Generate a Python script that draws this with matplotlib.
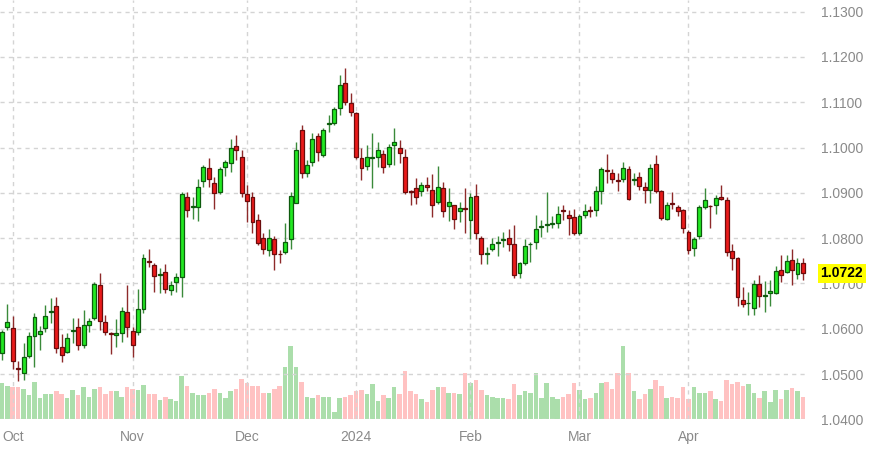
import matplotlib
matplotlib.use('Agg')
import matplotlib.pyplot as plt
import numpy as np
import pandas as pd
from matplotlib.transforms import blended_transform_factory

plt.rcParams['font.family'] = ['Liberation Sans', 'DejaVu Sans']

# trading days (US exchange holidays skipped)
holidays = ['2023-11-23', '2023-12-25', '2024-01-01', '2024-01-15', '2024-02-19', '2024-03-29']
dates = pd.bdate_range('2023-09-28', '2024-04-30', freq='C', holidays=holidays)

opens = [1.0547, 1.0603, 1.0602, 1.0514, 1.0503, 1.0540, 1.0584, 1.0589, 1.0602, 1.0636,
         1.0651, 1.0560, 1.0549, 1.0594, 1.0604, 1.0565, 1.0608, 1.0623, 1.0696, 1.0614,
         1.0591, 1.0587, 1.0590, 1.0636, 1.0596, 1.0593, 1.0644, 1.0749, 1.0740, 1.0719,
         1.0726, 1.0685, 1.0704, 1.0715, 1.0891, 1.0868, 1.0869, 1.0927, 1.0954, 1.0921,
         1.0902, 1.0958, 1.0966, 1.1003, 1.0978, 1.0897, 1.0891, 1.0839, 1.0800, 1.0773,
         1.0798, 1.0765, 1.0769, 1.0799, 1.0878, 1.1039, 1.0943, 1.0969, 1.1025, 1.0983,
         1.1052, 1.1055, 1.1087, 1.1142, 1.1098, 1.1076, 1.0976, 1.0960, 1.0977, 1.0979,
         1.0985, 1.0963, 1.1005, 1.1000, 1.0978, 1.0903, 1.0910, 1.0903, 1.0918, 1.0906,
         1.0880, 1.0910, 1.0871, 1.0873, 1.0860, 1.0866, 1.0839, 1.0894, 1.0801, 1.0766,
         1.0775, 1.0790, 1.0795, 1.0801, 1.0788, 1.0723, 1.0744, 1.0787, 1.0791, 1.0825,
         1.0830, 1.0832, 1.0834, 1.0861, 1.0852, 1.0847, 1.0811, 1.0851, 1.0863, 1.0863,
         1.0904, 1.0951, 1.0943, 1.0928, 1.0930, 1.0952, 1.0929, 1.0934, 1.0912, 1.0906,
         1.0963, 1.0904, 1.0843, 1.0877, 1.0868, 1.0862, 1.0814, 1.0779, 1.0804, 1.0869,
         1.0871, 1.0873, 1.0891, 1.0885, 1.0771, 1.0757, 1.0664, 1.0656, 1.0646, 1.0698,
         1.0673, 1.0678, 1.0679, 1.0729, 1.0725, 1.0752, 1.0720, 1.0744]
highs = [1.0598, 1.0654, 1.0628, 1.0529, 1.0568, 1.0593, 1.0634, 1.0607, 1.0652, 1.0667,
         1.0670, 1.0588, 1.0591, 1.0623, 1.0623, 1.0641, 1.0623, 1.0704, 1.0722, 1.0630,
         1.0593, 1.0621, 1.0649, 1.0696, 1.0604, 1.0687, 1.0765, 1.0775, 1.0744, 1.0735,
         1.0742, 1.0706, 1.0723, 1.0902, 1.0902, 1.0891, 1.0930, 1.0961, 1.0976, 1.0934,
         1.0956, 1.0972, 1.1018, 1.1027, 1.0994, 1.0918, 1.0902, 1.0853, 1.0811, 1.0821,
         1.0804, 1.0773, 1.0834, 1.0902, 1.1013, 1.1049, 1.0972, 1.1031, 1.1031, 1.1042,
         1.1072, 1.1090, 1.1160, 1.1175, 1.1121, 1.1079, 1.1000, 1.1006, 1.1031, 1.1013,
         1.0994, 1.1007, 1.1042, 1.1017, 1.0997, 1.0906, 1.0933, 1.0924, 1.0934, 1.0941,
         1.0959, 1.0924, 1.0910, 1.0873, 1.0880, 1.0910, 1.0899, 1.0919, 1.0804, 1.0780,
         1.0801, 1.0804, 1.0814, 1.0821, 1.0830, 1.0747, 1.0799, 1.0791, 1.0851, 1.0839,
         1.0902, 1.0849, 1.0870, 1.0873, 1.0862, 1.0865, 1.0853, 1.0875, 1.0870, 1.0915,
         1.0958, 1.0986, 1.0952, 1.0943, 1.0967, 1.0959, 1.0943, 1.0946, 1.0924, 1.0963,
         1.0983, 1.0906, 1.0880, 1.0902, 1.0873, 1.0865, 1.0817, 1.0803, 1.0873, 1.0910,
         1.0873, 1.0895, 1.0917, 1.0890, 1.0786, 1.0758, 1.0692, 1.0681, 1.0707, 1.0718,
         1.0705, 1.0707, 1.0738, 1.0762, 1.0762, 1.0777, 1.0757, 1.0755]
lows = [1.0530, 1.0597, 1.0512, 1.0485, 1.0487, 1.0535, 1.0516, 1.0553, 1.0593, 1.0612,
        1.0546, 1.0526, 1.0546, 1.0568, 1.0554, 1.0557, 1.0593, 1.0619, 1.0597, 1.0587,
        1.0544, 1.0560, 1.0570, 1.0581, 1.0538, 1.0586, 1.0634, 1.0737, 1.0682, 1.0679,
        1.0678, 1.0674, 1.0681, 1.0671, 1.0847, 1.0843, 1.0838, 1.0912, 1.0913, 1.0865,
        1.0897, 1.0937, 1.0946, 1.0972, 1.0890, 1.0836, 1.0811, 1.0784, 1.0764, 1.0761,
        1.0729, 1.0744, 1.0766, 1.0775, 1.0878, 1.0932, 1.0934, 1.0959, 1.0971, 1.0980,
        1.1035, 1.1050, 1.1072, 1.1094, 1.1070, 1.0974, 1.0928, 1.0950, 1.0911, 1.0958,
        1.0944, 1.0957, 1.0961, 1.0965, 1.0897, 1.0873, 1.0875, 1.0893, 1.0904, 1.0847,
        1.0875, 1.0847, 1.0838, 1.0821, 1.0836, 1.0811, 1.0799, 1.0799, 1.0742, 1.0742,
        1.0772, 1.0760, 1.0780, 1.0772, 1.0712, 1.0713, 1.0740, 1.0747, 1.0777, 1.0803,
        1.0814, 1.0823, 1.0823, 1.0839, 1.0806, 1.0806, 1.0806, 1.0845, 1.0847, 1.0849,
        1.0876, 1.0922, 1.0921, 1.0904, 1.0924, 1.0884, 1.0917, 1.0907, 1.0878, 1.0878,
        1.0899, 1.0841, 1.0841, 1.0865, 1.0848, 1.0811, 1.0766, 1.0760, 1.0799, 1.0865,
        1.0823, 1.0853, 1.0884, 1.0760, 1.0729, 1.0651, 1.0648, 1.0631, 1.0631, 1.0649,
        1.0637, 1.0651, 1.0676, 1.0703, 1.0723, 1.0696, 1.0710, 1.0708]
closes = [1.0592, 1.0614, 1.0529, 1.0512, 1.0537, 1.0584, 1.0626, 1.0596, 1.0629, 1.0638,
          1.0557, 1.0542, 1.0580, 1.0597, 1.0565, 1.0608, 1.0617, 1.0699, 1.0617, 1.0593,
          1.0588, 1.0590, 1.0638, 1.0604, 1.0565, 1.0644, 1.0756, 1.0747, 1.0716, 1.0721,
          1.0687, 1.0696, 1.0715, 1.0897, 1.0863, 1.0870, 1.0913, 1.0958, 1.0930, 1.0899,
          1.0952, 1.0967, 1.1000, 1.0994, 1.0900, 1.0882, 1.0836, 1.0789, 1.0775, 1.0800,
          1.0764, 1.0764, 1.0792, 1.0893, 1.0994, 1.0944, 1.0961, 1.1018, 1.0989, 1.1039,
          1.1054, 1.1084, 1.1138, 1.1101, 1.1078, 1.0980, 1.0954, 1.0978, 1.0978, 1.0994,
          1.0956, 1.1002, 1.1012, 1.0987, 1.0902, 1.0902, 1.0891, 1.0917, 1.0912, 1.0873,
          1.0912, 1.0860, 1.0879, 1.0842, 1.0867, 1.0865, 1.0891, 1.0811, 1.0764, 1.0767,
          1.0788, 1.0792, 1.0797, 1.0786, 1.0718, 1.0744, 1.0782, 1.0788, 1.0819, 1.0826,
          1.0831, 1.0833, 1.0854, 1.0859, 1.0845, 1.0811, 1.0848, 1.0860, 1.0859, 1.0904,
          1.0952, 1.0949, 1.0930, 1.0927, 1.0954, 1.0887, 1.0930, 1.0915, 1.0906, 1.0955,
          1.0904, 1.0845, 1.0873, 1.0875, 1.0860, 1.0823, 1.0773, 1.0797, 1.0868, 1.0884,
          1.0870, 1.0889, 1.0887, 1.0769, 1.0757, 1.0670, 1.0655, 1.0657, 1.0698, 1.0672,
          1.0674, 1.0683, 1.0727, 1.0719, 1.0749, 1.0729, 1.0745, 1.0722]
# volume, thousands of contracts
volume = [183, 168, 160, 160, 154, 120, 189, 107, 127, 127,
          142, 127, 107, 147, 120, 160, 114, 154, 160, 127,
          140, 140, 114, 160, 154, 147, 174, 127, 127, 99,
          112, 100, 94, 217, 167, 134, 120, 120, 134, 154,
          134, 107, 140, 154, 200, 184, 167, 167, 130, 134,
          154, 167, 264, 367, 264, 189, 114, 107, 120, 114,
          114, 39, 107, 114, 122, 144, 147, 127, 175, 94,
          120, 107, 160, 127, 244, 142, 127, 100, 87, 147,
          160, 160, 134, 134, 127, 230, 184, 197, 147, 120,
          114, 107, 107, 100, 175, 120, 140, 134, 230, 107,
          182, 114, 100, 114, 127, 182, 147, 100, 107, 134,
          182, 189, 154, 230, 367, 230, 140, 100, 127, 154,
          195, 169, 107, 114, 107, 160, 100, 160, 134, 134,
          140, 100, 94, 197, 175, 189, 169, 175, 134, 107,
          140, 87, 147, 100, 147, 155, 140, 114]

last_price = closes[-1]

O = np.array(opens); H = np.array(highs); L = np.array(lows); C = np.array(closes)
V = np.array(volume)
x = np.arange(len(O))
up = C >= O

# month ticks at first trading day of each month
first_idx = [i for i in range(1, len(dates)) if dates[i].month != dates[i - 1].month]
tick_labels = [dates[i].strftime('%Y') if dates[i].month == 1 else dates[i].strftime('%b') for i in first_idx]

W, Hh = 869, 449
fig = plt.figure(figsize=(W / 100, Hh / 100), dpi=100)
fig.patch.set_facecolor('white')
ax_bottom_px = 419.3
ax_right_px = 808
ax = fig.add_axes([0, (Hh - ax_bottom_px) / Hh, ax_right_px / W, ax_bottom_px / Hh])
axv = ax.twinx()

# volume
axv.bar(x, V, width=0.84, color=np.where(up, '#abdeab', '#ffc2c2'), linewidth=0, zorder=1)
axv.set_ylim(0, ax_bottom_px * 5)
axv.axis('off')

ax.set_zorder(axv.get_zorder() + 1)
ax.patch.set_visible(False)

# candles
wick_col = np.where(up, '#3a8a3a', '#8e2a2a')
ax.vlines(x, L, H, colors=wick_col, linewidth=1.0, zorder=3)
body_lo = np.minimum(O, C)
body_h = np.maximum(np.abs(C - O), 0.00004)
ax.bar(x, body_h, bottom=body_lo, width=0.72,
       color=np.where(up, '#22e822', '#ea1a1a'),
       edgecolor=np.where(up, '#0d5a0d', '#6a0c0c'), linewidth=0.9, zorder=4)

ax.set_xlim(-0.33, 147.93)
ax.set_ylim(1.04, 1.04 + ax_bottom_px / 4530)
ax.set_yticks(np.arange(1.04, 1.1301, 0.01))
ax.yaxis.set_major_formatter(matplotlib.ticker.FormatStrFormatter('%.4f'))
ax.yaxis.tick_right()
ax.set_xticks(first_idx)
ax.set_xticklabels(tick_labels)
ax.tick_params(axis='both', length=0, labelsize=10, labelcolor='#8a8a8a')
ax.tick_params(axis='y', pad=9)
ax.tick_params(axis='x', pad=8)
for s in ax.spines.values():
    s.set_visible(False)
ax.grid(True, color='#d4d4d4', linestyle=(0, (3, 3)), linewidth=1.0, zorder=0)
ax.set_axisbelow(True)

# last price marker
trans = blended_transform_factory(ax.transAxes, ax.transData)
ax.annotate(f'{last_price:.4f}', xy=(1.0, last_price), xycoords=trans,
            xytext=(9, 0), textcoords='offset points', ha='left', va='center',
            fontsize=10, fontweight='bold', color='black',
            bbox=dict(boxstyle='square,pad=0.18', facecolor='#ffff00', edgecolor='none'),
            annotation_clip=False, zorder=10)

fig.savefig('out.png', dpi=100)
